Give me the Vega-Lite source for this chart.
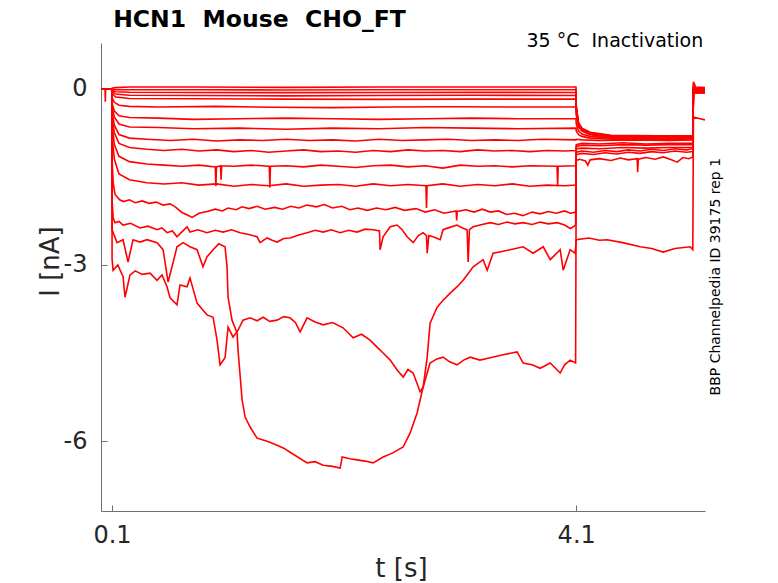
{
  "$schema": "https://vega.github.io/schema/vega-lite/v6.json",
  "autosize": "none",
  "width": 604,
  "height": 468,
  "padding": {"left": 101, "top": 43, "right": 73, "bottom": 72},
  "background": "white",
  "config": {"view": {"stroke": null}, "font": "DejaVu Sans"},
  "datasets": {
    "traces": [
      {"s":1,"t":0.005,"i":0},{"s":1,"t":0.04,"i":0},{"s":1,"t":0.042,"i":-0.22},{"s":1,"t":0.045,"i":0},{"s":1,"t":0.1,"i":0},{"s":1,"t":0.1005,"i":0.01},{"s":1,"t":0.13,"i":0.02},{"s":1,"t":0.25,"i":0.03},{"s":1,"t":0.8,"i":0.03},{"s":1,"t":1.6,"i":0.025},{"s":1,"t":2.4,"i":0.03},{"s":1,"t":3.2,"i":0.03},{"s":1,"t":4.098,"i":0.03},
      {"s":1,"t":4.1005,"i":-0.3},{"s":1,"t":4.12,"i":-0.58},{"s":1,"t":4.15,"i":-0.67},{"s":1,"t":4.22,"i":-0.74},{"s":1,"t":4.4,"i":-0.79},{"s":1,"t":4.8,"i":-0.8},{"s":1,"t":5.105,"i":-0.8},{"s":1,"t":5.11,"i":0.12},{"s":1,"t":5.13,"i":0.03},{"s":1,"t":5.21,"i":0.02},

      {"s":2,"t":0.005,"i":0},{"s":2,"t":0.1,"i":0},{"s":2,"t":0.1005,"i":-0.01},{"s":2,"t":0.13,"i":-0.015},{"s":2,"t":0.25,"i":-0.017},{"s":2,"t":0.8,"i":-0.015},{"s":2,"t":1.6,"i":-0.02},{"s":2,"t":2.4,"i":-0.017},{"s":2,"t":3.2,"i":-0.015},{"s":2,"t":4.098,"i":-0.017},
      {"s":2,"t":4.1005,"i":-0.3},{"s":2,"t":4.12,"i":-0.58},{"s":2,"t":4.15,"i":-0.68},{"s":2,"t":4.22,"i":-0.75},{"s":2,"t":4.4,"i":-0.8},{"s":2,"t":4.8,"i":-0.81},{"s":2,"t":5.105,"i":-0.81},{"s":2,"t":5.11,"i":0.05},{"s":2,"t":5.13,"i":0.0},{"s":2,"t":5.21,"i":0.0},

      {"s":3,"t":0.005,"i":0},{"s":3,"t":0.1,"i":0},{"s":3,"t":0.1005,"i":-0.03},{"s":3,"t":0.13,"i":-0.05},{"s":3,"t":0.25,"i":-0.06},{"s":3,"t":0.8,"i":-0.063},{"s":3,"t":1.6,"i":-0.065},{"s":3,"t":2.4,"i":-0.063},{"s":3,"t":3.2,"i":-0.06},{"s":3,"t":4.098,"i":-0.063},
      {"s":3,"t":4.1005,"i":-0.32},{"s":3,"t":4.12,"i":-0.6},{"s":3,"t":4.15,"i":-0.69},{"s":3,"t":4.22,"i":-0.76},{"s":3,"t":4.4,"i":-0.81},{"s":3,"t":4.8,"i":-0.82},{"s":3,"t":5.105,"i":-0.82},{"s":3,"t":5.11,"i":0.0},{"s":3,"t":5.13,"i":-0.02},{"s":3,"t":5.21,"i":-0.02},

      {"s":4,"t":0.005,"i":0},{"s":4,"t":0.1,"i":0},{"s":4,"t":0.1005,"i":-0.05},{"s":4,"t":0.13,"i":-0.09},{"s":4,"t":0.25,"i":-0.11},{"s":4,"t":0.8,"i":-0.114},{"s":4,"t":1.6,"i":-0.12},{"s":4,"t":2.4,"i":-0.114},{"s":4,"t":3.2,"i":-0.11},{"s":4,"t":4.098,"i":-0.114},
      {"s":4,"t":4.1005,"i":-0.35},{"s":4,"t":4.12,"i":-0.62},{"s":4,"t":4.15,"i":-0.7},{"s":4,"t":4.22,"i":-0.77},{"s":4,"t":4.4,"i":-0.82},{"s":4,"t":4.8,"i":-0.83},{"s":4,"t":5.105,"i":-0.83},{"s":4,"t":5.11,"i":-0.02},{"s":4,"t":5.13,"i":-0.04},{"s":4,"t":5.21,"i":-0.04},

      {"s":5,"t":0.005,"i":0},{"s":5,"t":0.1,"i":0},{"s":5,"t":0.1005,"i":-0.08},{"s":5,"t":0.13,"i":-0.14},{"s":5,"t":0.25,"i":-0.165},{"s":5,"t":0.8,"i":-0.17},{"s":5,"t":1.6,"i":-0.175},{"s":5,"t":2.4,"i":-0.18},{"s":5,"t":3.2,"i":-0.175},{"s":5,"t":4.098,"i":-0.175},
      {"s":5,"t":4.1005,"i":-0.4},{"s":5,"t":4.12,"i":-0.63},{"s":5,"t":4.15,"i":-0.71},{"s":5,"t":4.22,"i":-0.77},{"s":5,"t":4.4,"i":-0.82},{"s":5,"t":4.8,"i":-0.83},{"s":5,"t":5.105,"i":-0.83},{"s":5,"t":5.11,"i":-0.03},{"s":5,"t":5.13,"i":-0.05},{"s":5,"t":5.21,"i":-0.05},

      {"s":6,"t":0.005,"i":0},{"s":6,"t":0.1,"i":0},{"s":6,"t":0.1005,"i":-0.15},{"s":6,"t":0.12,"i":-0.23},{"s":6,"t":0.16,"i":-0.28},{"s":6,"t":0.25,"i":-0.3},{"s":6,"t":0.5,"i":-0.31},{"s":6,"t":1.0,"i":-0.3},{"s":6,"t":1.5,"i":-0.315},{"s":6,"t":2.0,"i":-0.32},{"s":6,"t":2.5,"i":-0.31},{"s":6,"t":3.0,"i":-0.305},{"s":6,"t":3.5,"i":-0.31},{"s":6,"t":4.098,"i":-0.31},
      {"s":6,"t":4.1005,"i":-0.45},{"s":6,"t":4.12,"i":-0.65},{"s":6,"t":4.15,"i":-0.72},{"s":6,"t":4.22,"i":-0.78},{"s":6,"t":4.4,"i":-0.83},{"s":6,"t":4.8,"i":-0.84},{"s":6,"t":5.105,"i":-0.84},{"s":6,"t":5.11,"i":-0.04},{"s":6,"t":5.13,"i":-0.06},{"s":6,"t":5.21,"i":-0.06},

      {"s":7,"t":0.005,"i":0},{"s":7,"t":0.1,"i":0},{"s":7,"t":0.1005,"i":-0.25},{"s":7,"t":0.12,"i":-0.38},{"s":7,"t":0.16,"i":-0.46},{"s":7,"t":0.25,"i":-0.49},{"s":7,"t":0.5,"i":-0.5},{"s":7,"t":0.8,"i":-0.52},{"s":7,"t":1.2,"i":-0.51},{"s":7,"t":1.6,"i":-0.5},{"s":7,"t":2.0,"i":-0.51},{"s":7,"t":2.4,"i":-0.52},{"s":7,"t":2.8,"i":-0.51},{"s":7,"t":3.2,"i":-0.5},{"s":7,"t":3.6,"i":-0.51},{"s":7,"t":4.098,"i":-0.51},
      {"s":7,"t":4.1005,"i":-0.6},{"s":7,"t":4.12,"i":-0.72},{"s":7,"t":4.15,"i":-0.77},{"s":7,"t":4.22,"i":-0.81},{"s":7,"t":4.4,"i":-0.84},{"s":7,"t":4.8,"i":-0.85},{"s":7,"t":5.105,"i":-0.85},{"s":7,"t":5.11,"i":-0.05},{"s":7,"t":5.13,"i":-0.07},{"s":7,"t":5.21,"i":-0.07},

      {"s":8,"t":0.005,"i":0},{"s":8,"t":0.1,"i":0},{"s":8,"t":0.1005,"i":-0.3},{"s":8,"t":0.12,"i":-0.48},{"s":8,"t":0.16,"i":-0.6},{"s":8,"t":0.25,"i":-0.65},{"s":8,"t":0.5,"i":-0.66},{"s":8,"t":0.8,"i":-0.68},{"s":8,"t":1.2,"i":-0.67},{"s":8,"t":1.6,"i":-0.69},{"s":8,"t":2.0,"i":-0.67},{"s":8,"t":2.4,"i":-0.68},{"s":8,"t":2.8,"i":-0.66},{"s":8,"t":3.2,"i":-0.67},{"s":8,"t":3.6,"i":-0.68},{"s":8,"t":4.098,"i":-0.67},
      {"s":8,"t":4.1005,"i":-0.72},{"s":8,"t":4.12,"i":-0.78},{"s":8,"t":4.15,"i":-0.81},{"s":8,"t":4.22,"i":-0.84},{"s":8,"t":4.4,"i":-0.86},{"s":8,"t":4.8,"i":-0.86},{"s":8,"t":5.105,"i":-0.86},{"s":8,"t":5.11,"i":-0.03},{"s":8,"t":5.13,"i":-0.05},{"s":8,"t":5.21,"i":-0.05},

      {"s":9,"t":0.005,"i":0},{"s":9,"t":0.1,"i":0},{"s":9,"t":0.1005,"i":-0.4},{"s":9,"t":0.12,"i":-0.62},{"s":9,"t":0.16,"i":-0.78},{"s":9,"t":0.25,"i":-0.84},{"s":9,"t":0.4,"i":-0.86},{"s":9,"t":0.6,"i":-0.88},{"s":9,"t":0.8,"i":-0.86},{"s":9,"t":1.0,"i":-0.89},{"s":9,"t":1.2,"i":-0.87},{"s":9,"t":1.4,"i":-0.88},{"s":9,"t":1.6,"i":-0.86},{"s":9,"t":1.8,"i":-0.88},{"s":9,"t":2.0,"i":-0.87},{"s":9,"t":2.2,"i":-0.89},{"s":9,"t":2.4,"i":-0.86},{"s":9,"t":2.6,"i":-0.88},{"s":9,"t":2.8,"i":-0.87},{"s":9,"t":3.0,"i":-0.86},{"s":9,"t":3.2,"i":-0.88},{"s":9,"t":3.4,"i":-0.87},{"s":9,"t":3.6,"i":-0.88},{"s":9,"t":3.8,"i":-0.86},{"s":9,"t":4.098,"i":-0.87},
      {"s":9,"t":4.1005,"i":-0.86},{"s":9,"t":4.15,"i":-0.87},{"s":9,"t":4.3,"i":-0.88},{"s":9,"t":4.6,"i":-0.87},{"s":9,"t":4.9,"i":-0.88},{"s":9,"t":5.105,"i":-0.87},{"s":9,"t":5.11,"i":-0.02},{"s":9,"t":5.13,"i":-0.04},{"s":9,"t":5.21,"i":-0.04},

      {"s":10,"t":0.005,"i":0},{"s":10,"t":0.1,"i":0},{"s":10,"t":0.1005,"i":-0.5},{"s":10,"t":0.12,"i":-0.75},{"s":10,"t":0.16,"i":-0.93},{"s":10,"t":0.25,"i":-1.0},{"s":10,"t":0.4,"i":-1.03},{"s":10,"t":0.55,"i":-1.05},{"s":10,"t":0.7,"i":-1.03},{"s":10,"t":0.85,"i":-1.06},{"s":10,"t":1.0,"i":-1.04},{"s":10,"t":1.15,"i":-1.07},{"s":10,"t":1.3,"i":-1.05},{"s":10,"t":1.45,"i":-1.08},{"s":10,"t":1.6,"i":-1.06},{"s":10,"t":1.75,"i":-1.04},{"s":10,"t":1.9,"i":-1.07},{"s":10,"t":2.05,"i":-1.06},{"s":10,"t":2.2,"i":-1.08},{"s":10,"t":2.35,"i":-1.05},{"s":10,"t":2.5,"i":-1.07},{"s":10,"t":2.65,"i":-1.04},{"s":10,"t":2.8,"i":-1.06},{"s":10,"t":2.95,"i":-1.05},{"s":10,"t":3.1,"i":-1.07},{"s":10,"t":3.25,"i":-1.04},{"s":10,"t":3.4,"i":-1.06},{"s":10,"t":3.55,"i":-1.05},{"s":10,"t":3.7,"i":-1.07},{"s":10,"t":3.85,"i":-1.05},{"s":10,"t":4.0,"i":-1.06},{"s":10,"t":4.098,"i":-1.05},
      {"s":10,"t":4.1005,"i":-0.95},{"s":10,"t":4.15,"i":-0.93},{"s":10,"t":4.3,"i":-0.94},{"s":10,"t":4.5,"i":-0.92},{"s":10,"t":4.7,"i":-0.94},{"s":10,"t":4.9,"i":-0.93},{"s":10,"t":5.105,"i":-0.93},{"s":10,"t":5.11,"i":-0.01},{"s":10,"t":5.13,"i":-0.03},{"s":10,"t":5.21,"i":-0.03},

      {"s":11,"t":0.005,"i":0},{"s":11,"t":0.1,"i":0},{"s":11,"t":0.1005,"i":-0.6},{"s":11,"t":0.12,"i":-0.95},{"s":11,"t":0.16,"i":-1.15},{"s":11,"t":0.25,"i":-1.24},{"s":11,"t":0.4,"i":-1.28},{"s":11,"t":0.55,"i":-1.3},{"s":11,"t":0.7,"i":-1.32},{"s":11,"t":0.85,"i":-1.3},{"s":11,"t":0.99,"i":-1.33},{"s":11,"t":0.995,"i":-1.66},{"s":11,"t":1.0,"i":-1.33},{"s":11,"t":1.035,"i":-1.31},{"s":11,"t":1.04,"i":-1.55},{"s":11,"t":1.045,"i":-1.31},{"s":11,"t":1.15,"i":-1.32},{"s":11,"t":1.3,"i":-1.3},{"s":11,"t":1.455,"i":-1.32},{"s":11,"t":1.46,"i":-1.68},{"s":11,"t":1.465,"i":-1.32},{"s":11,"t":1.6,"i":-1.31},{"s":11,"t":1.75,"i":-1.33},{"s":11,"t":1.9,"i":-1.3},{"s":11,"t":2.05,"i":-1.32},{"s":11,"t":2.2,"i":-1.34},{"s":11,"t":2.35,"i":-1.31},{"s":11,"t":2.5,"i":-1.3},{"s":11,"t":2.65,"i":-1.33},{"s":11,"t":2.8,"i":-1.31},{"s":11,"t":2.95,"i":-1.35},{"s":11,"t":3.1,"i":-1.3},{"s":11,"t":3.25,"i":-1.32},{"s":11,"t":3.4,"i":-1.31},{"s":11,"t":3.55,"i":-1.33},{"s":11,"t":3.7,"i":-1.31},{"s":11,"t":3.935,"i":-1.32},{"s":11,"t":3.94,"i":-1.66},{"s":11,"t":3.945,"i":-1.32},{"s":11,"t":4.098,"i":-1.31},
      {"s":11,"t":4.1005,"i":-0.98},{"s":11,"t":4.15,"i":-0.96},{"s":11,"t":4.3,"i":-0.97},{"s":11,"t":4.5,"i":-0.95},{"s":11,"t":4.7,"i":-0.96},{"s":11,"t":4.9,"i":-0.95},{"s":11,"t":5.105,"i":-0.95},{"s":11,"t":5.11,"i":0.0},{"s":11,"t":5.13,"i":-0.02},{"s":11,"t":5.21,"i":-0.02},

      {"s":12,"t":0.005,"i":0},{"s":12,"t":0.1,"i":0},{"s":12,"t":0.1005,"i":-0.8},{"s":12,"t":0.12,"i":-1.2},{"s":12,"t":0.16,"i":-1.45},{"s":12,"t":0.25,"i":-1.55},{"s":12,"t":0.4,"i":-1.6},{"s":12,"t":0.55,"i":-1.62},{"s":12,"t":0.7,"i":-1.6},{"s":12,"t":0.85,"i":-1.64},{"s":12,"t":1.0,"i":-1.62},{"s":12,"t":1.15,"i":-1.66},{"s":12,"t":1.3,"i":-1.63},{"s":12,"t":1.45,"i":-1.65},{"s":12,"t":1.6,"i":-1.62},{"s":12,"t":1.75,"i":-1.66},{"s":12,"t":1.9,"i":-1.64},{"s":12,"t":2.05,"i":-1.63},{"s":12,"t":2.2,"i":-1.66},{"s":12,"t":2.35,"i":-1.62},{"s":12,"t":2.5,"i":-1.65},{"s":12,"t":2.65,"i":-1.63},{"s":12,"t":2.805,"i":-1.65},{"s":12,"t":2.81,"i":-2.03},{"s":12,"t":2.815,"i":-1.65},{"s":12,"t":2.95,"i":-1.62},{"s":12,"t":3.1,"i":-1.66},{"s":12,"t":3.25,"i":-1.63},{"s":12,"t":3.4,"i":-1.65},{"s":12,"t":3.55,"i":-1.62},{"s":12,"t":3.7,"i":-1.66},{"s":12,"t":3.85,"i":-1.64},{"s":12,"t":4.0,"i":-1.65},{"s":12,"t":4.098,"i":-1.64},
      {"s":12,"t":4.1005,"i":-1.02},{"s":12,"t":4.15,"i":-1.01},{"s":12,"t":4.3,"i":-1.02},{"s":12,"t":4.5,"i":-1.0},{"s":12,"t":4.7,"i":-1.01},{"s":12,"t":4.9,"i":-1.0},{"s":12,"t":5.105,"i":-1.0},{"s":12,"t":5.11,"i":0.01},{"s":12,"t":5.13,"i":-0.01},{"s":12,"t":5.21,"i":-0.01},

      {"s":13,"t":0.005,"i":0},{"s":13,"t":0.1,"i":0},{"s":13,"t":0.1005,"i":-1.2},{"s":13,"t":0.11,"i":-1.6},{"s":13,"t":0.126,"i":-1.8},{"s":13,"t":0.166,"i":-1.89},{"s":13,"t":0.2,"i":-1.92},{"s":13,"t":0.25,"i":-1.89},{"s":13,"t":0.3,"i":-1.94},{"s":13,"t":0.36,"i":-1.91},{"s":13,"t":0.42,"i":-1.95},{"s":13,"t":0.48,"i":-1.93},{"s":13,"t":0.54,"i":-1.98},{"s":13,"t":0.6,"i":-1.96},{"s":13,"t":0.645,"i":-2.01},{"s":13,"t":0.705,"i":-2.11},{"s":13,"t":0.75,"i":-2.15},{"s":13,"t":0.79,"i":-2.19},{"s":13,"t":0.85,"i":-2.12},{"s":13,"t":0.92,"i":-2.09},{"s":13,"t":0.99,"i":-2.05},{"s":13,"t":1.05,"i":-2.08},{"s":13,"t":1.1,"i":-2.03},{"s":13,"t":1.17,"i":-2.06},{"s":13,"t":1.22,"i":-2.01},{"s":13,"t":1.28,"i":-2.04},{"s":13,"t":1.35,"i":-2.0},{"s":13,"t":1.42,"i":-2.05},{"s":13,"t":1.5,"i":-2.02},{"s":13,"t":1.57,"i":-2.05},{"s":13,"t":1.64,"i":-2.0},{"s":13,"t":1.71,"i":-2.03},{"s":13,"t":1.78,"i":-1.98},{"s":13,"t":1.86,"i":-2.01},{"s":13,"t":1.93,"i":-1.97},{"s":13,"t":2.0,"i":-2.03},{"s":13,"t":2.08,"i":-2.0},{"s":13,"t":2.15,"i":-2.06},{"s":13,"t":2.22,"i":-2.03},{"s":13,"t":2.3,"i":-2.07},{"s":13,"t":2.38,"i":-2.03},{"s":13,"t":2.46,"i":-2.06},{"s":13,"t":2.54,"i":-2.02},{"s":13,"t":2.62,"i":-2.07},{"s":13,"t":2.72,"i":-2.04},{"s":13,"t":2.8,"i":-2.1},{"s":13,"t":2.88,"i":-2.06},{"s":13,"t":2.96,"i":-2.12},{"s":13,"t":3.065,"i":-2.08},{"s":13,"t":3.07,"i":-2.24},{"s":13,"t":3.075,"i":-2.09},{"s":13,"t":3.15,"i":-2.06},{"s":13,"t":3.22,"i":-2.1},{"s":13,"t":3.29,"i":-2.05},{"s":13,"t":3.36,"i":-2.1},{"s":13,"t":3.43,"i":-2.08},{"s":13,"t":3.5,"i":-2.14},{"s":13,"t":3.57,"i":-2.12},{"s":13,"t":3.64,"i":-2.16},{"s":13,"t":3.72,"i":-2.1},{"s":13,"t":3.79,"i":-2.13},{"s":13,"t":3.86,"i":-2.09},{"s":13,"t":3.93,"i":-2.12},{"s":13,"t":4.0,"i":-2.08},{"s":13,"t":4.05,"i":-2.12},{"s":13,"t":4.098,"i":-2.1},
      {"s":13,"t":4.1005,"i":-1.08},{"s":13,"t":4.15,"i":-1.06},{"s":13,"t":4.25,"i":-1.08},{"s":13,"t":4.35,"i":-1.05},{"s":13,"t":4.45,"i":-1.07},{"s":13,"t":4.55,"i":-1.04},{"s":13,"t":4.65,"i":-1.06},{"s":13,"t":4.75,"i":-1.03},{"s":13,"t":4.85,"i":-1.05},{"s":13,"t":4.95,"i":-1.02},{"s":13,"t":5.05,"i":-1.04},{"s":13,"t":5.105,"i":-1.02},{"s":13,"t":5.11,"i":-0.03},{"s":13,"t":5.13,"i":-0.05},{"s":13,"t":5.21,"i":-0.05},

      {"s":14,"t":0.005,"i":0},{"s":14,"t":0.1,"i":0},{"s":14,"t":0.1005,"i":-1.9},{"s":14,"t":0.11,"i":-2.2},{"s":14,"t":0.126,"i":-2.28},{"s":14,"t":0.16,"i":-2.26},{"s":14,"t":0.195,"i":-2.32},{"s":14,"t":0.26,"i":-2.29},{"s":14,"t":0.341,"i":-2.37},{"s":14,"t":0.41,"i":-2.34},{"s":14,"t":0.488,"i":-2.4},{"s":14,"t":0.53,"i":-2.37},{"s":14,"t":0.574,"i":-2.45},{"s":14,"t":0.62,"i":-2.42},{"s":14,"t":0.66,"i":-2.52},{"s":14,"t":0.7,"i":-2.44},{"s":14,"t":0.747,"i":-2.35},{"s":14,"t":0.772,"i":-2.44},{"s":14,"t":0.84,"i":-2.4},{"s":14,"t":0.919,"i":-2.45},{"s":14,"t":0.99,"i":-2.41},{"s":14,"t":1.057,"i":-2.44},{"s":14,"t":1.13,"i":-2.4},{"s":14,"t":1.203,"i":-2.45},{"s":14,"t":1.28,"i":-2.48},{"s":14,"t":1.35,"i":-2.52},{"s":14,"t":1.376,"i":-2.62},{"s":14,"t":1.436,"i":-2.54},{"s":14,"t":1.48,"i":-2.58},{"s":14,"t":1.522,"i":-2.61},{"s":14,"t":1.58,"i":-2.55},{"s":14,"t":1.634,"i":-2.54},{"s":14,"t":1.71,"i":-2.49},{"s":14,"t":1.781,"i":-2.45},{"s":14,"t":1.85,"i":-2.41},{"s":14,"t":1.919,"i":-2.44},{"s":14,"t":1.99,"i":-2.4},{"s":14,"t":2.066,"i":-2.45},{"s":14,"t":2.14,"i":-2.41},{"s":14,"t":2.212,"i":-2.44},{"s":14,"t":2.28,"i":-2.39},{"s":14,"t":2.35,"i":-2.4},{"s":14,"t":2.405,"i":-2.42},{"s":14,"t":2.41,"i":-2.74},{"s":14,"t":2.436,"i":-2.52},{"s":14,"t":2.497,"i":-2.35},{"s":14,"t":2.557,"i":-2.32},{"s":14,"t":2.6,"i":-2.4},{"s":14,"t":2.643,"i":-2.52},{"s":14,"t":2.695,"i":-2.62},{"s":14,"t":2.74,"i":-2.5},{"s":14,"t":2.781,"i":-2.45},{"s":14,"t":2.81,"i":-2.5},{"s":14,"t":2.816,"i":-2.8},{"s":14,"t":2.83,"i":-2.5},{"s":14,"t":2.867,"i":-2.52},{"s":14,"t":2.928,"i":-2.57},{"s":14,"t":2.953,"i":-2.4},{"s":14,"t":3.01,"i":-2.36},{"s":14,"t":3.074,"i":-2.32},{"s":14,"t":3.12,"i":-2.37},{"s":14,"t":3.16,"i":-2.4},{"s":14,"t":3.169,"i":-2.95},{"s":14,"t":3.18,"i":-2.4},{"s":14,"t":3.212,"i":-2.35},{"s":14,"t":3.29,"i":-2.31},{"s":14,"t":3.359,"i":-2.28},{"s":14,"t":3.43,"i":-2.31},{"s":14,"t":3.505,"i":-2.27},{"s":14,"t":3.57,"i":-2.3},{"s":14,"t":3.643,"i":-2.28},{"s":14,"t":3.72,"i":-2.31},{"s":14,"t":3.79,"i":-2.27},{"s":14,"t":3.86,"i":-2.3},{"s":14,"t":3.936,"i":-2.28},{"s":14,"t":4.0,"i":-2.32},{"s":14,"t":4.05,"i":-2.38},{"s":14,"t":4.074,"i":-2.35},{"s":14,"t":4.095,"i":-2.32},
      {"s":14,"t":4.1005,"i":-1.12},{"s":14,"t":4.15,"i":-1.1},{"s":14,"t":4.25,"i":-1.12},{"s":14,"t":4.35,"i":-1.09},{"s":14,"t":4.45,"i":-1.11},{"s":14,"t":4.55,"i":-1.08},{"s":14,"t":4.65,"i":-1.1},{"s":14,"t":4.75,"i":-1.07},{"s":14,"t":4.85,"i":-1.09},{"s":14,"t":4.95,"i":-1.06},{"s":14,"t":5.05,"i":-1.08},{"s":14,"t":5.105,"i":-1.07},{"s":14,"t":5.11,"i":0.02},{"s":14,"t":5.13,"i":0.0},{"s":14,"t":5.21,"i":0.0},

      {"s":15,"t":0.005,"i":0},{"s":15,"t":0.1,"i":0},{"s":15,"t":0.1005,"i":-2.9},{"s":15,"t":0.109,"i":-3.09},{"s":15,"t":0.15,"i":-3.0},{"s":15,"t":0.195,"i":-3.2},{"s":15,"t":0.212,"i":-3.55},{"s":15,"t":0.255,"i":-3.17},{"s":15,"t":0.3,"i":-3.1},{"s":15,"t":0.36,"i":-3.16},{"s":15,"t":0.428,"i":-3.14},{"s":15,"t":0.488,"i":-3.26},{"s":15,"t":0.531,"i":-3.17},{"s":15,"t":0.574,"i":-3.37},{"s":15,"t":0.6,"i":-3.56},{"s":15,"t":0.66,"i":-3.68},{"s":15,"t":0.686,"i":-3.34},{"s":15,"t":0.747,"i":-3.37},{"s":15,"t":0.772,"i":-3.22},{"s":15,"t":0.833,"i":-3.65},{"s":15,"t":0.884,"i":-3.77},{"s":15,"t":0.919,"i":-3.85},{"s":15,"t":0.971,"i":-3.89},{"s":15,"t":1.005,"i":-4.28},{"s":15,"t":1.031,"i":-4.7},{"s":15,"t":1.074,"i":-4.58},{"s":15,"t":1.1,"i":-4.06},{"s":15,"t":1.143,"i":-4.23},{"s":15,"t":1.186,"i":-4.11},{"s":15,"t":1.229,"i":-3.94},{"s":15,"t":1.29,"i":-3.9},{"s":15,"t":1.35,"i":-3.95},{"s":15,"t":1.402,"i":-3.89},{"s":15,"t":1.46,"i":-3.96},{"s":15,"t":1.522,"i":-3.94},{"s":15,"t":1.58,"i":-3.88},{"s":15,"t":1.634,"i":-3.9},{"s":15,"t":1.68,"i":-3.98},{"s":15,"t":1.721,"i":-4.14},{"s":15,"t":1.781,"i":-3.9},{"s":15,"t":1.85,"i":-3.97},{"s":15,"t":1.919,"i":-4.02},{"s":15,"t":2.0,"i":-3.98},{"s":15,"t":2.091,"i":-4.07},{"s":15,"t":2.178,"i":-4.24},{"s":15,"t":2.25,"i":-4.18},{"s":15,"t":2.324,"i":-4.28},{"s":15,"t":2.384,"i":-4.4},{"s":15,"t":2.436,"i":-4.5},{"s":15,"t":2.497,"i":-4.62},{"s":15,"t":2.557,"i":-4.79},{"s":15,"t":2.609,"i":-4.91},{"s":15,"t":2.65,"i":-4.78},{"s":15,"t":2.695,"i":-4.84},{"s":15,"t":2.755,"i":-5.16},{"s":15,"t":2.781,"i":-5.08},{"s":15,"t":2.816,"i":-4.84},{"s":15,"t":2.841,"i":-4.67},{"s":15,"t":2.9,"i":-4.6},{"s":15,"t":2.953,"i":-4.57},{"s":15,"t":3.01,"i":-4.65},{"s":15,"t":3.074,"i":-4.7},{"s":15,"t":3.13,"i":-4.62},{"s":15,"t":3.186,"i":-4.57},{"s":15,"t":3.27,"i":-4.62},{"s":15,"t":3.359,"i":-4.58},{"s":15,"t":3.47,"i":-4.53},{"s":15,"t":3.591,"i":-4.48},{"s":15,"t":3.643,"i":-4.67},{"s":15,"t":3.72,"i":-4.7},{"s":15,"t":3.79,"i":-4.76},{"s":15,"t":3.876,"i":-4.67},{"s":15,"t":3.962,"i":-4.84},{"s":15,"t":4.0,"i":-4.7},{"s":15,"t":4.048,"i":-4.62},{"s":15,"t":4.095,"i":-4.67},
      {"s":15,"t":4.1005,"i":-1.22},{"s":15,"t":4.13,"i":-1.2},{"s":15,"t":4.18,"i":-1.23},{"s":15,"t":4.2,"i":-1.3},{"s":15,"t":4.22,"i":-1.21},{"s":15,"t":4.3,"i":-1.19},{"s":15,"t":4.4,"i":-1.22},{"s":15,"t":4.48,"i":-1.18},{"s":15,"t":4.55,"i":-1.21},{"s":15,"t":4.625,"i":-1.19},{"s":15,"t":4.63,"i":-1.42},{"s":15,"t":4.635,"i":-1.2},{"s":15,"t":4.7,"i":-1.17},{"s":15,"t":4.78,"i":-1.2},{"s":15,"t":4.85,"i":-1.16},{"s":15,"t":4.92,"i":-1.21},{"s":15,"t":4.97,"i":-1.25},{"s":15,"t":5.02,"i":-1.17},{"s":15,"t":5.07,"i":-1.19},{"s":15,"t":5.105,"i":-1.16},{"s":15,"t":5.11,"i":-0.05},{"s":15,"t":5.13,"i":-0.07},{"s":15,"t":5.21,"i":-0.07},

      {"s":16,"t":0.005,"i":0},{"s":16,"t":0.1,"i":0},{"s":16,"t":0.1005,"i":-2.4},{"s":16,"t":0.143,"i":-2.62},{"s":16,"t":0.195,"i":-2.57},{"s":16,"t":0.238,"i":-2.95},{"s":16,"t":0.281,"i":-2.57},{"s":16,"t":0.341,"i":-2.61},{"s":16,"t":0.402,"i":-2.57},{"s":16,"t":0.488,"i":-2.62},{"s":16,"t":0.54,"i":-2.74},{"s":16,"t":0.583,"i":-3.29},{"s":16,"t":0.617,"i":-3.03},{"s":16,"t":0.66,"i":-2.69},{"s":16,"t":0.712,"i":-2.62},{"s":16,"t":0.772,"i":-2.69},{"s":16,"t":0.833,"i":-2.74},{"s":16,"t":0.884,"i":-3.03},{"s":16,"t":0.919,"i":-2.86},{"s":16,"t":0.971,"i":-2.74},{"s":16,"t":1.02,"i":-2.64},{"s":16,"t":1.074,"i":-2.69},{"s":16,"t":1.091,"i":-3.03},{"s":16,"t":1.1,"i":-3.55},{"s":16,"t":1.134,"i":-3.94},{"s":16,"t":1.178,"i":-4.16},{"s":16,"t":1.186,"i":-4.45},{"s":16,"t":1.221,"i":-5.3},{"s":16,"t":1.247,"i":-5.59},{"s":16,"t":1.29,"i":-5.76},{"s":16,"t":1.35,"i":-5.95},{"s":16,"t":1.402,"i":-5.98},{"s":16,"t":1.46,"i":-6.02},{"s":16,"t":1.522,"i":-6.07},{"s":16,"t":1.58,"i":-6.12},{"s":16,"t":1.634,"i":-6.19},{"s":16,"t":1.7,"i":-6.27},{"s":16,"t":1.781,"i":-6.37},{"s":16,"t":1.85,"i":-6.35},{"s":16,"t":1.919,"i":-6.41},{"s":16,"t":2.0,"i":-6.43},{"s":16,"t":2.066,"i":-6.46},{"s":16,"t":2.083,"i":-6.27},{"s":16,"t":2.15,"i":-6.3},{"s":16,"t":2.212,"i":-6.32},{"s":16,"t":2.28,"i":-6.34},{"s":16,"t":2.35,"i":-6.37},{"s":16,"t":2.436,"i":-6.27},{"s":16,"t":2.52,"i":-6.2},{"s":16,"t":2.609,"i":-6.1},{"s":16,"t":2.669,"i":-5.86},{"s":16,"t":2.729,"i":-5.52},{"s":16,"t":2.781,"i":-5.08},{"s":16,"t":2.816,"i":-4.57},{"s":16,"t":2.841,"i":-3.99},{"s":16,"t":2.902,"i":-3.72},{"s":16,"t":2.953,"i":-3.6},{"s":16,"t":3.014,"i":-3.48},{"s":16,"t":3.074,"i":-3.37},{"s":16,"t":3.126,"i":-3.26},{"s":16,"t":3.212,"i":-3.03},{"s":16,"t":3.298,"i":-2.91},{"s":16,"t":3.333,"i":-3.09},{"s":16,"t":3.384,"i":-2.8},{"s":16,"t":3.46,"i":-2.77},{"s":16,"t":3.531,"i":-2.74},{"s":16,"t":3.643,"i":-2.69},{"s":16,"t":3.729,"i":-2.8},{"s":16,"t":3.816,"i":-2.69},{"s":16,"t":3.876,"i":-2.91},{"s":16,"t":3.962,"i":-2.74},{"s":16,"t":3.988,"i":-3.09},{"s":16,"t":4.048,"i":-2.74},{"s":16,"t":4.091,"i":-2.8},
      {"s":16,"t":4.1005,"i":-2.57},{"s":16,"t":4.21,"i":-2.54},{"s":16,"t":4.3,"i":-2.58},{"s":16,"t":4.367,"i":-2.57},{"s":16,"t":4.5,"i":-2.62},{"s":16,"t":4.652,"i":-2.69},{"s":16,"t":4.75,"i":-2.72},{"s":16,"t":4.85,"i":-2.78},{"s":16,"t":4.95,"i":-2.72},{"s":16,"t":5.083,"i":-2.69},{"s":16,"t":5.105,"i":-2.74},{"s":16,"t":5.11,"i":-0.48},{"s":16,"t":5.15,"i":-0.5},{"s":16,"t":5.21,"i":-0.53}
    ],
    "notes": [
      {"t": 0.11, "i": 1.057, "label": "HCN1\u00a0 Mouse\u00a0 CHO_FT", "kind": "title"},
      {"t": 5.195, "i": 0.716, "label": "35 °C\u00a0 Inactivation", "kind": "cond"},
      {"t": 5.307, "i": -3.2, "label": "BBP Channelpedia ID 39175 rep 1", "kind": "id"}
    ]
  },
  "encoding": {
    "x": {
      "field": "t", "type": "quantitative",
      "scale": {"domain": [0.005, 5.21], "nice": false, "zero": false},
      "axis": {
        "title": "t [s]", "values": [0.1, 4.1], "format": ".1f", "grid": false,
        "domainColor": "#6e6e6e", "tickColor": "#6e6e6e", "tickSize": -6, "labelPadding": 18.5,
        "labelFontSize": 24, "labelColor": "#262626", "labelFont": "DejaVu Sans",
        "titleFontSize": 26, "titleFontWeight": "normal", "titleColor": "#262626", "titleFont": "DejaVu Sans",
        "titleX": 300, "titleY": 57, "titleBaseline": "middle"
      }
    },
    "y": {
      "field": "i", "type": "quantitative",
      "scale": {"domain": [-7.19, 0.78], "nice": false, "zero": false},
      "axis": {
        "title": "I [nA]", "values": [0, -3, -6], "grid": false,
        "labelExpr": "'' + datum.value",
        "domainColor": "#6e6e6e", "tickColor": "#6e6e6e", "tickSize": -6, "labelPadding": 20,
        "labelFontSize": 24, "labelColor": "#262626", "labelFont": "DejaVu Sans",
        "titleFontSize": 26, "titleFontWeight": "normal", "titleColor": "#262626", "titleFont": "DejaVu Sans",
        "titleX": -51, "titleY": 218, "titleBaseline": "middle", "titleAlign": "center"
      }
    }
  },
  "layer": [
    {
      "data": {"name": "traces"},
      "mark": {"type": "line", "color": "#ff0000", "strokeWidth": 1.6, "clip": true},
      "encoding": {"detail": {"field": "s", "type": "nominal"}}
    },
    {
      "data": {"name": "notes"},
      "transform": [{"filter": "datum.kind == 'title'"}],
      "mark": {"type": "text", "align": "left", "baseline": "alphabetic", "font": "DejaVu Sans", "fontSize": 23.5, "fontWeight": "bold", "color": "#000000"},
      "encoding": {"text": {"field": "label"}}
    },
    {
      "data": {"name": "notes"},
      "transform": [{"filter": "datum.kind == 'cond'"}],
      "mark": {"type": "text", "align": "right", "baseline": "alphabetic", "font": "DejaVu Sans", "fontSize": 19, "color": "#000000"},
      "encoding": {"text": {"field": "label"}}
    },
    {
      "data": {"name": "notes"},
      "transform": [{"filter": "datum.kind == 'id'"}],
      "mark": {"type": "text", "align": "center", "baseline": "middle", "angle": 270, "font": "DejaVu Sans", "fontSize": 14, "color": "#000000"},
      "encoding": {"text": {"field": "label"}}
    }
  ]
}
